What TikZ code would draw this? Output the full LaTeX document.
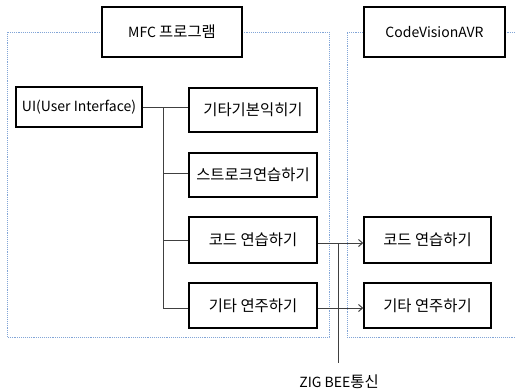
\documentclass[tikz,border=0pt]{standalone}
\usepackage{fontspec}
\setmainfont{Noto Sans CJK KR}
\newfontfamily\krfont[Scale=1.1]{Noto Sans CJK KR}
\newcommand{\kr}[1]{{\krfont #1}}
\usetikzlibrary{arrows.meta}
\definecolor{regblue}{RGB}{130,165,215}
\begin{document}
\begin{tikzpicture}[x=1pt,y=-1pt,
  box/.style={draw=black, line width=1.5pt, fill=white, inner sep=0pt, font=\fontsize{14}{16}\selectfont},
  region/.style={draw=regblue, densely dotted, line width=0.9pt},
  conn/.style={draw=black!75, line width=1pt},
  arr/.style={conn, -{Straight Barb[length=4pt,width=7pt]}}]
\useasboundingbox (0,0) rectangle (515,391);
% regions
\draw[region] (7,32) rectangle (329,337);
\draw[region] (515,32) -- (347,32) -- (347,337) -- (515,337);
% title boxes
\node[box, minimum width=140pt, minimum height=50pt] (mfc) at (172,32) {MFC \kr{프로그램}};
\node[box, minimum width=141pt, minimum height=50pt] (cv) at (434.5,32) {CodeVisionAVR};
% UI
\node[box, minimum width=126pt, minimum height=40pt] (ui) at (79,107) {UI(User Interface)};
% left boxes
\node[box, minimum width=128pt, minimum height=44pt] (b1) at (253,110) {\kr{기타기본익히기}};
\node[box, minimum width=128pt, minimum height=44pt] (b2) at (253,175) {\kr{스트로크연습하기}};
\node[box, minimum width=128pt, minimum height=46pt] (b3) at (253,240) {\kr{코드 연습하기}};
\node[box, minimum width=128pt, minimum height=45pt] (b4) at (253,305.5) {\kr{기타 연주하기}};
% right boxes
\node[box, minimum width=127pt, minimum height=46pt] (r3) at (427.5,240) {\kr{코드 연습하기}};
\node[box, minimum width=127pt, minimum height=45pt] (r4) at (427.5,305.5) {\kr{기타 연주하기}};
% tree connectors
\coordinate (t0) at (163,107);
\coordinate (t4) at (163,308);
\draw[conn] (ui.east) -- (t0) -- (t4);
\draw[conn] (t0) -- (b1.west |- t0);
\draw[conn] (163,173) -- (b2.west |- 0,173);
\draw[conn] (163,240) -- (b3.west);
\draw[conn] (t4) -- (b4.west |- t4);
% arrows
\draw[arr] (b3.east |- 0,243) -- (r3.west |- 0,243);
\draw[arr] (b4.east |- 0,308) -- (r4.west |- 0,308);
% zigbee
\node[font=\fontsize{14}{16}\selectfont, inner sep=0pt] (zb) at (339,382) {ZIG BEE\kr{통신}};
\coordinate (zt) at (338,243);
\draw[conn] (zt) -- (338,363);
\end{tikzpicture}
\end{document}
